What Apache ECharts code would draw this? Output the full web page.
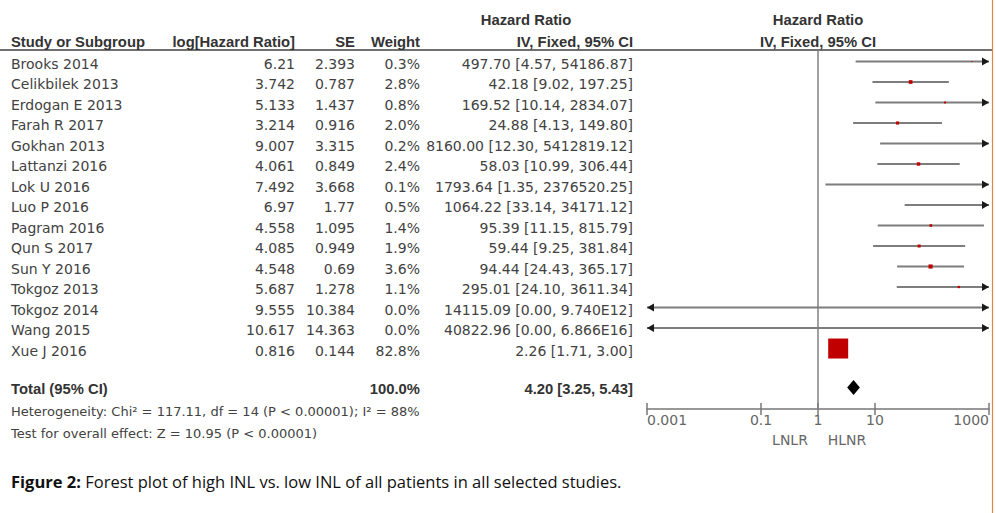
<!DOCTYPE html>
<html><head><meta charset="utf-8">
<script src="https://cdn.jsdelivr.net/npm/echarts@6/dist/echarts.min.js"></script>
<style>html,body{margin:0;padding:0;background:#fff}#c{width:996px;height:513px}</style>
</head><body><div id="c"></div><script>
// ---- data ----
const studies = ['Brooks 2014','Celikbilek 2013','Erdogan E 2013','Farah R 2017','Gokhan 2013','Lattanzi 2016','Lok U 2016','Luo P 2016','Pagram 2016','Qun S 2017','Sun Y 2016','Tokgoz 2013','Tokgoz 2014','Wang 2015','Xue J 2016'];
const logHR = [6.21,3.742,5.133,3.214,9.007,4.061,7.492,6.97,4.558,4.085,4.548,5.687,9.555,10.617,0.816];
const se = [2.393,0.787,1.437,0.916,3.315,0.849,3.668,1.77,1.095,0.949,0.69,1.278,10.384,14.363,0.144];
const weight = [0.3,2.8,0.8,2.0,0.2,2.4,0.1,0.5,1.4,1.9,3.6,1.1,0.0,0.0,82.8];
const hr = [497.70,42.18,169.52,24.88,8160.00,58.03,1793.64,1064.22,95.39,59.44,94.44,295.01,14115.09,40822.96,2.26];
const ciLow = [4.57,9.02,10.14,4.13,12.30,10.99,1.35,33.14,11.15,9.25,24.43,24.10,0.00,0.00,1.71];
const ciHigh = [54186.87,197.25,2834.07,149.80,5412819.12,306.44,2376520.25,34171.12,815.79,381.84,365.17,3611.34,9.740e12,6.866e16,3.00];
const totalWeight = 100.0, totalHR = 4.20, totalLow = 3.25, totalHigh = 5.43;
const xTicks = [0.001, 0.1, 1, 10, 1000];
const heterogeneity = 'Heterogeneity: Chi² = 117.11, df = 14 (P < 0.00001); I² = 88%';
const overallEffect = 'Test for overall effect: Z = 10.95 (P < 0.00001)';
const favoursLeft = 'LNLR', favoursRight = 'HLNR';
const caption = 'Forest plot of high INL vs. low INL of all patients in all selected studies.';

// ---- helpers / layout ----
const AX_MIN = 0.001, AX_MAX = 1000;
const TOTAL_ROW = 15.9;
const Y_MIN = -0.561, Y_MAX = 16.95;
const REG = '"DejaVu Sans", Verdana, sans-serif';
const FONT = '14px ' + REG;
const FOOT = '13px ' + REG;
const BFONT = 'bold 14.8px "Liberation Sans", Arial, sans-serif';
const TXT = '#424242', HDR = '#333';
const TEXT_DY = 2;
function fmtNum(v){
  if (v >= 1e9){ const e = Math.floor(Math.log10(v)); return (v/Math.pow(10,e)).toFixed(3)+'E'+e; }
  return v.toFixed(2);
}
function ciText(h,l,u){ return fmtNum(h)+' ['+fmtNum(l)+', '+fmtNum(u)+']'; }
const columns = [
  {x:11, align:'left', get:i=>studies[i]},
  {x:295, align:'right', get:i=>String(logHR[i])},
  {x:355, align:'right', get:i=>String(se[i])},
  {x:420, align:'right', get:i=>weight[i].toFixed(1)+'%'},
  {x:633, align:'right', get:i=>ciText(hr[i],ciLow[i],ciHigh[i])}
];

const chart = echarts.init(document.getElementById('c'), null, {renderer:'svg'});
const gridTop = 50, gridBottom = 513-409;

const option = {
  backgroundColor:'#fff',
  animation:false,
  grid:[
    {left:0, width:640, top:gridTop, bottom:gridBottom},
    {left:647, right:7, top:gridTop, bottom:gridBottom},
    {left:647, right:7, top:gridTop, bottom:gridBottom}
  ],
  xAxis:[
    {gridIndex:0, type:'value', min:0, max:640, show:false},
    {gridIndex:1, type:'log', logBase:10, min:AX_MIN, max:AX_MAX, position:'bottom',
     axisLine:{show:true, onZero:false, lineStyle:{color:'#777', width:1.5}},
     axisTick:{show:true, customValues:xTicks, length:6, lineStyle:{color:'#777', width:1.5}},
     splitLine:{show:false},
     axisLabel:{show:true, customValues:xTicks, margin:4, color:'#666', fontSize:14,
       fontFamily:REG, alignMinLabel:'left', alignMaxLabel:'right',
       formatter:v=>String(+v)}},
    {gridIndex:2, type:'log', logBase:10, min:AX_MIN, max:AX_MAX, position:'bottom',
     axisLine:{show:false, onZero:false},
     axisTick:{show:true, inside:true, customValues:xTicks, length:6, lineStyle:{color:'#777', width:1.5}},
     axisLabel:{show:false}, splitLine:{show:false}}
  ],
  yAxis:[0,1,2].map(g=>({gridIndex:g, type:'value', inverse:true, min:Y_MIN, max:Y_MAX, show:false})),
  series:[
    { // table text
      type:'custom', xAxisIndex:0, yAxisIndex:0, silent:true, clip:false,
      data: studies.map((s,i)=>[0,i]),
      renderItem:(params, api)=>{
        const i = params.dataIndex;
        return {type:'group', children: columns.map(c=>{
          const p = api.coord([c.x, i]);
          return {type:'text', x:p[0], y:p[1]+TEXT_DY, style:{text:c.get(i), font:FONT, fill:TXT, align:c.align, verticalAlign:'middle'}};
        })};
      }
    },
    { // total row text
      type:'custom', xAxisIndex:0, yAxisIndex:0, silent:true, clip:false,
      data:[[0,TOTAL_ROW]],
      renderItem:(params, api)=>{
        const r = api.value(1);
        const items = [
          {x:11, align:'left', t:'Total (95% CI)'},
          {x:420, align:'right', t:totalWeight.toFixed(1)+'%'},
          {x:633, align:'right', t:ciText(totalHR,totalLow,totalHigh)}
        ];
        return {type:'group', children: items.map(c=>{
          const p = api.coord([c.x, r]);
          return {type:'text', x:p[0], y:p[1]+TEXT_DY, style:{text:c.t, font:BFONT, fill:HDR, align:c.align, verticalAlign:'middle'}};
        })};
      }
    },
    { // forest study lines
      type:'custom', xAxisIndex:1, yAxisIndex:1, silent:true, clip:false,
      data: studies.map((s,i)=>[hr[i], i]),
      renderItem:(params, api)=>{
        const i = params.dataIndex;
        const lo = Math.max(ciLow[i], AX_MIN), hi = Math.min(ciHigh[i], AX_MAX);
        const p1 = api.coord([lo, i]), p2 = api.coord([hi, i]);
        const y = p1[1];
        const ch = [{type:'line', shape:{x1:p1[0], y1:y, x2:p2[0], y2:y}, style:{stroke:'#7d7d7d', lineWidth:2}}];
        if (ciLow[i] < AX_MIN) ch.push({type:'polygon', shape:{points:[[p1[0],y],[p1[0]+7,y-4],[p1[0]+7,y+4]]}, style:{fill:'#1a1a1a'}});
        if (ciHigh[i] > AX_MAX) ch.push({type:'polygon', shape:{points:[[p2[0],y],[p2[0]-7,y-4],[p2[0]-7,y+4]]}, style:{fill:'#1a1a1a'}});
        if (hr[i] >= AX_MIN && hr[i] <= AX_MAX && weight[i] > 0){
          const pc = api.coord([hr[i], i]);
          const sz = Math.max(1.2, 20*Math.sqrt(weight[i]/82.8));
          ch.push({type:'rect', shape:{x:pc[0]-sz/2, y:pc[1]-sz/2, width:sz, height:sz}, style:{fill:'#c00000'}});
        }
        return {type:'group', children:ch};
      },
      markLine:{silent:true, symbol:'none', label:{show:false}, lineStyle:{color:'#808080', width:1.5, type:'solid'}, data:[{xAxis:1}]}
    },
    { // total diamond
      type:'custom', xAxisIndex:1, yAxisIndex:1, silent:true, clip:false,
      data:[[totalHR, TOTAL_ROW]],
      renderItem:(params, api)=>{
        const r = api.value(1);
        const pl = api.coord([totalLow, r]), ph = api.coord([totalHigh, r]), pc = api.coord([totalHR, r]);
        const h = 7.5;
        return {type:'polygon', shape:{points:[[pl[0],pc[1]],[pc[0],pc[1]-h],[ph[0],pc[1]],[pc[0],pc[1]+h]]}, style:{fill:'#000'}};
      }
    }
  ],
  graphic:[
    {type:'line', shape:{x1:0, y1:50, x2:992, y2:50}, style:{stroke:'#707070', lineWidth:2}},
    {type:'line', shape:{x1:992.5, y1:0, x2:992.5, y2:513}, style:{stroke:'#d9874f', lineWidth:1.2}},
    {type:'text', x:11, y:42, style:{text:'Study or Subgroup', font:BFONT, fill:HDR, align:'left', verticalAlign:'middle'}},
    {type:'text', x:295, y:42, style:{text:'log[Hazard Ratio]', font:BFONT, fill:HDR, align:'right', verticalAlign:'middle'}},
    {type:'text', x:355, y:42, style:{text:'SE', font:BFONT, fill:HDR, align:'right', verticalAlign:'middle'}},
    {type:'text', x:420, y:42, style:{text:'Weight', font:BFONT, fill:HDR, align:'right', verticalAlign:'middle'}},
    {type:'text', x:526, y:20, style:{text:'Hazard Ratio', font:BFONT, fill:HDR, align:'center', verticalAlign:'middle'}},
    {type:'text', x:633, y:42, style:{text:'IV, Fixed, 95% CI', font:BFONT, fill:HDR, align:'right', verticalAlign:'middle'}},
    {type:'text', x:818, y:20, style:{text:'Hazard Ratio', font:BFONT, fill:HDR, align:'center', verticalAlign:'middle'}},
    {type:'text', x:818, y:42, style:{text:'IV, Fixed, 95% CI', font:BFONT, fill:HDR, align:'center', verticalAlign:'middle'}},
    {type:'text', x:11, y:411, style:{text:heterogeneity, font:FOOT, fill:TXT, align:'left', verticalAlign:'middle'}},
    {type:'text', x:11, y:433, style:{text:overallEffect, font:FOOT, fill:TXT, align:'left', verticalAlign:'middle'}},
    {type:'text', x:790, y:440, style:{text:favoursLeft, font:FONT, fill:'#666', align:'center', verticalAlign:'middle'}},
    {type:'text', x:847, y:440, style:{text:favoursRight, font:FONT, fill:'#666', align:'center', verticalAlign:'middle'}},
    {type:'text', x:11, y:481, style:{text:'{b|Figure 2:} '+caption, font:'16.5px "Open Sans", sans-serif', fill:'#111', align:'left', verticalAlign:'middle',
      rich:{b:{fontWeight:'bold', fontSize:16.5, fontFamily:'"Open Sans", sans-serif', fill:'#111'}}}}
  ]
};
chart.setOption(option);
</script></body></html>
